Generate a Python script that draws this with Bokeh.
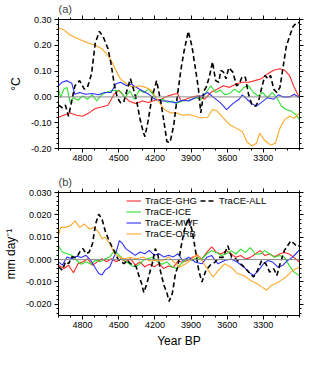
from bokeh.plotting import figure
from bokeh.models import (LinearAxis, FixedTicker, NumeralTickFormatter, Range1d,
                          Legend, LegendItem, Span, CustomJSTickFormatter)
from bokeh.layouts import column
from bokeh.embed import file_html
from bokeh.resources import INLINE

FONT = "Liberation Sans"

# ---------------- tick values ----------------
x_major = [4800, 4500, 4200, 3900, 3600, 3300]
x_minor = [5000, 4900, 4800, 4700, 4600, 4500, 4400, 4300, 4200, 4100, 4000,
           3900, 3800, 3700, 3600, 3500, 3400, 3300, 3200, 3100, 3000]
ya_major = [-0.20, -0.10, 0.00, 0.10, 0.20, 0.30]
ya_minor = [-0.20, -0.18, -0.16, -0.14, -0.12, -0.10, -0.08, -0.06, -0.04, -0.02, 0.00,
            0.02, 0.04, 0.06, 0.08, 0.10, 0.12, 0.14, 0.16, 0.18, 0.20,
            0.22, 0.24, 0.26, 0.28, 0.30]
yb_major = [-0.020, -0.010, 0.000, 0.010, 0.020, 0.030]
yb_minor = [-0.024, -0.022, -0.020, -0.018, -0.016, -0.014, -0.012, -0.010, -0.008,
            -0.006, -0.004, -0.002, 0.000, 0.002, 0.004, 0.006, 0.008, 0.010, 0.012,
            0.014, 0.016, 0.018, 0.020, 0.022, 0.024, 0.026, 0.028, 0.030]

# ---------------- panel (a): temperature (degC) ----------------
a_ghg_year = [5000, 4956, 4903, 4851, 4800, 4747, 4695, 4643, 4590, 4538, 4499, 4460, 4408,
              4356, 4304, 4251, 4199, 4147, 4095, 4043, 4012, 3983, 3944, 3892, 3840, 3788,
              3736, 3683, 3631, 3579, 3527, 3475, 3423, 3370, 3318, 3266, 3214, 3162, 3123,
              3083, 3044, 3000]
a_ghg = [-0.079, -0.071, -0.062, -0.071, -0.075, -0.062, -0.045, -0.039, -0.032, 0.010, 0.026,
         0.004, -0.018, -0.026, -0.016, -0.022, -0.013, -0.009, 0.003, 0.010, 0.013, -0.016,
         -0.009, 0.000, 0.004, -0.009, 0.017, 0.030, 0.043, 0.037, 0.050, 0.057, 0.057, 0.063,
         0.070, 0.089, 0.103, 0.109, 0.103, 0.083, 0.037, -0.003]

a_ice_year = [5000, 4982, 4956, 4930, 4903, 4877, 4838, 4800, 4760, 4721, 4682, 4643, 4604,
              4564, 4525, 4486, 4447, 4408, 4369, 4330, 4291, 4251, 4212, 4173, 4134, 4095,
              4056, 4022, 3970, 3918, 3866, 3814, 3775, 3736, 3696, 3657, 3618, 3579, 3540,
              3501, 3462, 3423, 3383, 3344, 3305, 3266, 3227, 3188, 3149, 3110, 3070, 3031,
              3000]
a_ice = [0.030, -0.003, 0.030, 0.037, -0.022, -0.003, -0.013, 0.004, -0.009, 0.008, -0.016,
         0.008, 0.017, 0.024, 0.026, 0.021, -0.003, 0.024, -0.009, 0.026, 0.017, 0.030, 0.008,
         -0.016, -0.009, -0.022, -0.016, -0.026, -0.016, -0.013, -0.003, -0.009, 0.017, 0.043,
         0.017, 0.026, 0.008, 0.013, 0.030, 0.017, 0.037, 0.043, 0.017, 0.004, 0.017, -0.003,
         0.017, -0.003, -0.036, -0.049, -0.055, -0.068, -0.088]

a_mwf_year = [5000, 4969, 4930, 4890, 4864, 4825, 4773, 4721, 4669, 4617, 4564, 4525, 4486,
              4434, 4395, 4356, 4304, 4251, 4199, 4147, 4095, 4043, 4022, 3970, 3918, 3866,
              3814, 3762, 3710, 3657, 3605, 3553, 3501, 3475, 3436, 3396, 3357, 3318, 3266,
              3214, 3175, 3136, 3083, 3044, 3000]
a_mwf = [0.043, 0.057, 0.063, 0.053, 0.010, 0.017, 0.010, 0.013, 0.008, 0.017, 0.017, 0.050,
         0.057, 0.043, 0.050, 0.037, 0.024, 0.010, -0.009, -0.016, -0.016, -0.022, -0.022,
         -0.013, -0.016, -0.003, 0.004, 0.017, -0.003, -0.022, -0.049, -0.026, -0.009, 0.008,
         -0.009, -0.026, -0.036, -0.022, -0.003, -0.009, 0.008, 0.000, 0.000, 0.010, -0.003]

a_orb_year = [5000, 4956, 4903, 4851, 4800, 4747, 4695, 4643, 4604, 4564, 4525, 4486, 4434,
              4382, 4330, 4278, 4225, 4173, 4121, 4069, 4022, 3970, 3918, 3866, 3814, 3762,
              3722, 3683, 3631, 3579, 3527, 3475, 3436, 3396, 3357, 3331, 3292, 3240, 3201,
              3162, 3123, 3083, 3044, 3000]
a_orb = [0.267, 0.260, 0.240, 0.228, 0.218, 0.208, 0.200, 0.188, 0.168, 0.142, 0.103, 0.070,
         0.050, 0.037, 0.043, 0.037, 0.024, -0.016, -0.049, -0.062, -0.062, -0.071, -0.068,
         -0.075, -0.082, -0.079, -0.049, -0.055, -0.082, -0.108, -0.121, -0.134, -0.174,
         -0.190, -0.180, -0.141, -0.167, -0.187, -0.180, -0.121, -0.088, -0.075, -0.082,
         -0.062]

a_all_year = [5000, 4969, 4943, 4917, 4890, 4864, 4825, 4786, 4760, 4726, 4695, 4661, 4630,
              4590, 4564, 4538, 4512, 4486, 4460, 4429, 4403, 4382, 4351, 4325, 4298, 4283,
              4257, 4225, 4186, 4147, 4121, 4100, 4074, 4043, 4012, 3983, 3957, 3923, 3892,
              3866, 3840, 3819, 3793, 3775, 3749, 3722, 3696, 3670, 3652, 3631, 3610, 3587,
              3553, 3522, 3501, 3475, 3449, 3423, 3396, 3365, 3339, 3313, 3287, 3261, 3240,
              3214, 3188, 3162, 3136, 3110, 3083, 3052, 3018, 3000]
a_all = [-0.032, -0.042, -0.032, -0.075, -0.016, 0.043, 0.063, 0.030, 0.037, 0.089, 0.208,
         0.254, 0.234, 0.188, 0.129, 0.050, -0.003, -0.022, -0.022, 0.030, 0.070, 0.037,
         -0.016, -0.082, -0.134, -0.154, -0.095, -0.003, 0.063, -0.029, -0.108, -0.174,
         -0.176, -0.108, 0.010, 0.109, 0.180, 0.254, 0.195, 0.116, 0.037, -0.062, 0.024,
         0.037, 0.076, 0.136, 0.063, 0.057, 0.103, 0.096, 0.070, 0.113, 0.096, 0.043, 0.050,
         0.079, 0.076, 0.010, -0.029, -0.036, -0.016, 0.037, 0.083, 0.070, 0.083, 0.030,
         0.017, 0.037, 0.116, 0.195, 0.234, 0.274, 0.289, 0.287]

# ---------------- panel (b): precipitation (mm/day) ----------------
b_ghg_year = [5000, 4955, 4916, 4876, 4837, 4797, 4758, 4718, 4679, 4639, 4600, 4561, 4521,
              4482, 4442, 4403, 4363, 4324, 4284, 4245, 4205, 4166, 4126, 4087, 4047, 4008,
              3971, 3930, 3890, 3850, 3810, 3769, 3729, 3689, 3649, 3609, 3568, 3528, 3488,
              3448, 3408, 3367, 3327, 3287, 3247, 3206, 3166, 3126, 3086, 3046, 3000]
b_ghg = [-0.0025, -0.0040, -0.0025, -0.0059, -0.0018, -0.0010, 0.0004, -0.0025, -0.0010,
         0.0004, -0.0010, 0.0004, -0.0010, 0.0004, -0.0010, 0.0004, -0.0025, -0.0010,
         -0.0032, -0.0021, -0.0032, -0.0018, -0.0040, -0.0029, -0.0035, -0.0006, -0.0012,
         -0.0004, 0.0010, 0.0018, 0.0003, 0.0032, 0.0057, 0.0032, 0.0025, 0.0040, 0.0025,
         0.0010, 0.0018, 0.0003, 0.0010, 0.0025, 0.0040, 0.0018, 0.0025, 0.0013, 0.0025,
         0.0032, 0.0025, 0.0010, -0.0012]

b_ice_year = [5000, 4968, 4929, 4889, 4850, 4811, 4771, 4732, 4692, 4653, 4613, 4574, 4534,
              4495, 4455, 4416, 4376, 4337, 4297, 4258, 4218, 4179, 4139, 4100, 4061, 4021,
              3971, 3930, 3890, 3850, 3810, 3769, 3729, 3689, 3649, 3609, 3568, 3528, 3488,
              3448, 3408, 3367, 3327, 3287, 3247, 3206, 3166, 3126, 3086, 3046, 3000]
b_ice = [0.0059, 0.0034, 0.0026, 0.0019, -0.0003, -0.0021, -0.0010, -0.0021, -0.0003,
         -0.0010, 0.0004, 0.0012, 0.0041, 0.0019, -0.0003, -0.0018, -0.0032, -0.0025,
         -0.0003, 0.0004, 0.0012, -0.0010, -0.0021, -0.0010, -0.0032, -0.0040, -0.0012,
         0.0003, -0.0004, 0.0010, 0.0003, 0.0025, 0.0040, 0.0032, 0.0018, 0.0025, 0.0040,
         0.0025, 0.0047, 0.0032, 0.0054, 0.0025, 0.0025, 0.0040, 0.0025, 0.0010, 0.0018,
         0.0010, -0.0026, -0.0056, -0.0071]

b_mwf_year = [5000, 4968, 4929, 4889, 4850, 4811, 4771, 4732, 4692, 4666, 4639, 4613, 4574,
              4547, 4521, 4495, 4468, 4442, 4403, 4363, 4324, 4284, 4245, 4205, 4166, 4126,
              4087, 4047, 4008, 3971, 3917, 3863, 3810, 3769, 3729, 3676, 3622, 3568, 3515,
              3461, 3421, 3381, 3340, 3300, 3260, 3220, 3180, 3139, 3099, 3059, 3032, 3000]
b_mwf = [-0.0010, -0.0025, 0.0012, 0.0004, 0.0015, 0.0009, 0.0019, -0.0003, -0.0040,
         -0.0062, -0.0069, -0.0047, -0.0032, 0.0004, 0.0034, 0.0085, 0.0071, 0.0049, 0.0034,
         0.0019, 0.0034, 0.0026, 0.0041, 0.0019, 0.0026, 0.0012, 0.0019, 0.0012, 0.0026,
         -0.0004, 0.0010, -0.0012, -0.0019, 0.0010, 0.0018, -0.0019, -0.0004, 0.0003,
         -0.0012, -0.0034, -0.0056, -0.0071, -0.0049, -0.0019, -0.0004, -0.0012, -0.0034,
         -0.0026, -0.0004, 0.0010, 0.0025, 0.0043]

b_orb_year = [5000, 4982, 4942, 4903, 4863, 4824, 4784, 4745, 4705, 4666, 4639, 4613, 4574,
              4534, 4495, 4455, 4403, 4350, 4297, 4245, 4192, 4139, 4087, 4034, 3997, 3944,
              3890, 3850, 3810, 3756, 3716, 3676, 3622, 3568, 3515, 3461, 3408, 3354, 3314,
              3273, 3233, 3193, 3153, 3113, 3072, 3032, 3000]
b_orb = [0.0107, 0.0144, 0.0144, 0.0151, 0.0173, 0.0144, 0.0159, 0.0137, 0.0144, 0.0122,
         0.0093, 0.0100, 0.0071, 0.0026, 0.0012, 0.0004, 0.0009, 0.0004, 0.0012, -0.0006,
         -0.0003, -0.0006, 0.0012, -0.0015, -0.0034, -0.0019, 0.0003, 0.0025, -0.0004,
         -0.0049, -0.0078, -0.0049, -0.0019, -0.0034, -0.0063, -0.0071, -0.0093, -0.0107,
         -0.0122, -0.0137, -0.0115, -0.0107, -0.0093, -0.0078, -0.0056, -0.0041, -0.0034]

b_all_year = [5000, 4968, 4942, 4916, 4889, 4850, 4824, 4797, 4771, 4745, 4718, 4692, 4666,
              4639, 4613, 4587, 4561, 4534, 4508, 4482, 4455, 4429, 4403, 4376, 4355, 4337,
              4311, 4292, 4266, 4245, 4218, 4197, 4176, 4153, 4126, 4100, 4082, 4055, 4029,
              4011, 3984, 3957, 3922, 3890, 3863, 3836, 3810, 3777, 3743, 3702, 3670, 3635,
              3595, 3563, 3528, 3488, 3456, 3421, 3381, 3349, 3314, 3279, 3247, 3214, 3188,
              3161, 3126, 3099, 3072, 3046, 3019, 3000]
b_all = [-0.0032, -0.0047, -0.0010, -0.0018, 0.0012, 0.0009, 0.0034, 0.0049, 0.0026, 0.0034,
         0.0071, 0.0159, 0.0203, 0.0181, 0.0129, 0.0093, 0.0063, 0.0034, 0.0004, -0.0010,
         -0.0018, -0.0003, -0.0018, -0.0025, -0.0032, -0.0065, -0.0106, -0.0147, -0.0106,
         -0.0062, -0.0010, 0.0049, 0.0026, -0.0054, -0.0113, -0.0150, -0.0187, -0.0150,
         -0.0062, -0.0034, 0.0054, 0.0128, 0.0187, 0.0128, 0.0040, -0.0049, -0.0100, -0.0049,
         -0.0026, -0.0012, 0.0010, 0.0010, 0.0062, 0.0010, 0.0003, -0.0019, -0.0034, -0.0056,
         -0.0078, -0.0049, -0.0004, -0.0019, -0.0056, -0.0041, -0.0071, -0.0019, 0.0040,
         0.0062, 0.0084, 0.0072, 0.0057, 0.0062]

series_names = ["TraCE-GHG", "TraCE-ICE", "TraCE-MWF", "TraCE-ORB", "TraCE-ALL"]
COLORS = {"TraCE-GHG": "#ff2a2a", "TraCE-ICE": "#2ee02e", "TraCE-MWF": "#2f2fff",
          "TraCE-ORB": "#ffa726", "TraCE-ALL": "black"}


def style_axis(ax, xt, labels=True):
    ax.ticker = xt
    ax.axis_line_color = "black"
    ax.major_tick_in = 0
    ax.major_tick_out = 4
    ax.minor_tick_in = 0
    ax.minor_tick_out = 2
    ax.major_tick_line_color = "black"
    ax.minor_tick_line_color = "black"
    ax.major_label_text_font = FONT
    ax.major_label_text_font_size = "9px"
    ax.major_label_text_color = "black"
    ax.axis_label_text_font = FONT
    ax.axis_label_text_font_style = "normal"
    ax.axis_label_text_color = "black"
    if not labels:
        ax.formatter = CustomJSTickFormatter(code="return '';")
        ax.major_label_text_font_size = "0px"
        ax.major_label_standoff = 0


def make_panel(height, yrange, ymaj, ymin, yfmt, ylabel, title, border_left,
               border_top, border_bottom, data, xlabel=None):
    p = figure(width=304, height=height, x_range=Range1d(5000, 3000),
               y_range=Range1d(*yrange), output_backend="svg", toolbar_location=None,
               min_border_left=border_left, min_border_right=5,
               min_border_top=border_top, min_border_bottom=border_bottom)
    p.background_fill_color = "white"
    p.border_fill_color = "white"
    p.outline_line_color = "black"
    p.outline_line_width = 1
    p.xgrid.visible = False
    p.ygrid.visible = False
    xt = FixedTicker(ticks=x_major, minor_ticks=x_minor)
    yt = FixedTicker(ticks=ymaj, minor_ticks=ymin)
    style_axis(p.xaxis[0], xt)
    p.xaxis[0].major_label_standoff = 2
    style_axis(p.yaxis[0], yt)
    p.yaxis[0].major_label_standoff = 3
    p.yaxis[0].formatter = NumeralTickFormatter(format=yfmt)
    p.yaxis[0].axis_label = ylabel
    p.yaxis[0].axis_label_text_font_size = "12px"
    p.yaxis[0].axis_label_standoff = 5
    if xlabel:
        p.xaxis[0].axis_label = xlabel
        p.xaxis[0].axis_label_text_font_size = "12px"
        p.xaxis[0].axis_label_standoff = 3
    ax_r = LinearAxis()
    style_axis(ax_r, FixedTicker(ticks=ymaj, minor_ticks=ymin), labels=False)
    p.add_layout(ax_r, "right")
    ax_t = LinearAxis()
    style_axis(ax_t, FixedTicker(ticks=x_major, minor_ticks=x_minor), labels=False)
    p.add_layout(ax_t, "above")

    p.title.text = title
    p.title.text_font = FONT
    p.title.text_font_size = "11px"
    p.title.text_font_style = "normal"
    p.title.align = "left"
    p.title.standoff = 1

    p.add_layout(Span(location=0, dimension="width", line_color="#8a8a8a", line_width=1))

    renderers = {}
    for name in series_names:
        yrs, vals = data[name]
        if name == "TraCE-ALL":
            r = p.line(yrs, vals, line_color="black", line_width=1.6, line_dash="5 3")
        else:
            r = p.line(yrs, vals, line_color=COLORS[name], line_width=1.1)
        renderers[name] = r
    return p, renderers


pa, _ = make_panel(170, (-0.20, 0.30), ya_major, ya_minor, "0.00", "°C", "(a)", 46, 18, 22,
                   {"TraCE-GHG": (a_ghg_year, a_ghg), "TraCE-ICE": (a_ice_year, a_ice),
                    "TraCE-MWF": (a_mwf_year, a_mwf), "TraCE-ORB": (a_orb_year, a_orb),
                    "TraCE-ALL": (a_all_year, a_all)})

pb, rb = make_panel(180, (-0.025, 0.030), yb_major, yb_minor, "0.000", "mm day⁻¹", "(b)",
                    51, 22, 32,
                    {"TraCE-GHG": (b_ghg_year, b_ghg), "TraCE-ICE": (b_ice_year, b_ice),
                     "TraCE-MWF": (b_mwf_year, b_mwf), "TraCE-ORB": (b_orb_year, b_orb),
                     "TraCE-ALL": (b_all_year, b_all)}, xlabel="Year BP")


def make_legend(names, loc):
    lg = Legend(items=[LegendItem(label=n, renderers=[rb[n]]) for n in names],
                location=loc, orientation="vertical")
    lg.background_fill_alpha = 0
    lg.border_line_alpha = 0
    lg.label_text_font = FONT
    lg.label_text_font_size = "9.5px"
    lg.label_text_color = "black"
    lg.glyph_width = 15
    lg.glyph_height = 11
    lg.label_height = 11
    lg.label_standoff = 4
    lg.spacing = 0
    lg.padding = 0
    lg.margin = 0
    return lg


pb.add_layout(make_legend(["TraCE-GHG", "TraCE-ICE", "TraCE-MWF", "TraCE-ORB"], (68, 76)))
pb.add_layout(make_legend(["TraCE-ALL"], (142, 109)))

layout = column(pa, pb, spacing=0)
open("out.html", "w").write(file_html(layout, INLINE))
